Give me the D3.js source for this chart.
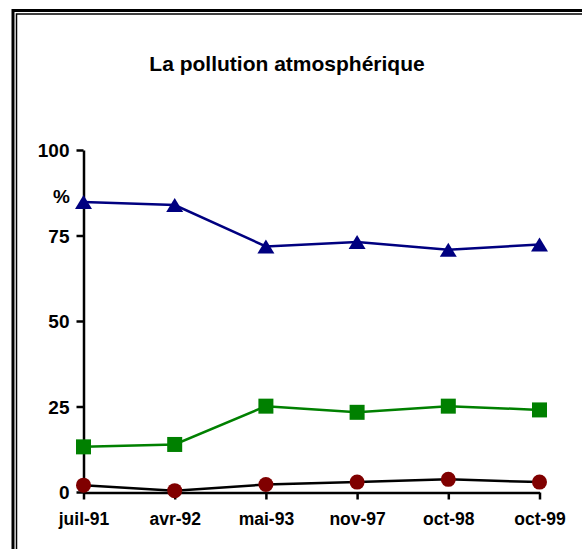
<!DOCTYPE html>
<html>
<head>
<meta charset="utf-8">
<script src="https://cdn.jsdelivr.net/npm/d3@7"></script>
<style>
  body { margin: 0; background: #fff; }
  text { font-family: "Liberation Sans", Arial, sans-serif; font-weight: bold; fill: #000; }
</style>
</head>
<body>
<div id="chart"></div>
<script>
// data
var categories = ["juil-91", "avr-92", "mai-93", "nov-97", "oct-98", "oct-99"]
var blueSeries = [84.8, 83.9, 71.8, 73.1, 70.8, 72.4]
var greenSeries = [13.2, 13.9, 25.1, 23.3, 25.1, 24.0]
var redSeries = [2.0, 0.4, 2.2, 2.9, 3.7, 2.9]
var yTicks = [0, 25, 50, 75, 100]

var width = 582, height = 549

var svg = d3.select("#chart").append("svg")
    .attr("width", width)
    .attr("height", height)

// double frame (right and bottom run off the picture)
svg.append("rect")
    .attr("x", 13).attr("y", 10.5)
    .attr("width", 600).attr("height", 600)
    .attr("fill", "none").attr("stroke", "#000").attr("stroke-width", 3)
svg.append("rect")
    .attr("x", 16.5).attr("y", 14)
    .attr("width", 600).attr("height", 600)
    .attr("fill", "none").attr("stroke", "#000").attr("stroke-width", 1.5)

svg.append("text")
    .attr("x", 287).attr("y", 71)
    .attr("text-anchor", "middle")
    .style("font-size", "21px")
    .text("La pollution atmosphérique")

var x = d3.scalePoint()
    .domain(categories)
    .range([83.5, 539.5])

var y = d3.scaleLinear()
    .domain([0, 100])
    .range([492, 150])

// y axis
var yAxis = svg.append("g")
    .attr("transform", "translate(83.5,0)")
    .call(d3.axisLeft(y).tickValues(yTicks).tickSize(7).tickSizeOuter(0).tickPadding(7))
yAxis.select(".domain").attr("stroke-width", 2.5)
yAxis.selectAll(".tick line").attr("stroke-width", 2.5)
yAxis.selectAll(".tick text")
    .style("font-size", "19px")
    .style("font-family", "'Liberation Sans', Arial, sans-serif")
    .style("font-weight", "bold")
    .attr("dy", "0.36em")

svg.append("text")
    .attr("x", 70).attr("y", 203)
    .attr("text-anchor", "end")
    .style("font-size", "19px")
    .text("%")

// x axis
var xAxis = svg.append("g")
    .attr("transform", "translate(0,492.5)")
    .call(d3.axisBottom(x).tickSize(7).tickSizeOuter(0).tickPadding(13))
xAxis.select(".domain").attr("stroke-width", 2.5)
xAxis.selectAll(".tick line").attr("stroke-width", 2.5)
xAxis.selectAll(".tick text")
    .style("font-size", "17.5px")
    .style("font-family", "'Liberation Sans', Arial, sans-serif")
    .style("font-weight", "bold")

var line = d3.line()
    .x(function (d, i) { return x(categories[i]) })
    .y(function (d) { return y(d) })

// red circles (black line)
svg.append("path").datum(redSeries)
    .attr("d", line).attr("fill", "none")
    .attr("stroke", "#000").attr("stroke-width", 2.5)
svg.selectAll(".red").data(redSeries).enter()
    .append("circle")
    .attr("cx", function (d, i) { return x(categories[i]) })
    .attr("cy", function (d) { return y(d) })
    .attr("r", 7.5)
    .attr("fill", "#800000")

// green squares
svg.append("path").datum(greenSeries)
    .attr("d", line).attr("fill", "none")
    .attr("stroke", "#008000").attr("stroke-width", 2.5)
svg.selectAll(".green").data(greenSeries).enter()
    .append("rect")
    .attr("x", function (d, i) { return x(categories[i]) - 7.5 })
    .attr("y", function (d) { return y(d) - 7.5 })
    .attr("width", 15).attr("height", 15)
    .attr("fill", "#008000")

// blue triangles
svg.append("path").datum(blueSeries)
    .attr("d", line).attr("fill", "none")
    .attr("stroke", "#000080").attr("stroke-width", 2.5)
svg.selectAll(".blue").data(blueSeries).enter()
    .append("path")
    .attr("transform", function (d, i) { return "translate(" + x(categories[i]) + "," + y(d) + ")" })
    .attr("d", "M0,-7L8.5,7L-8.5,7Z")
    .attr("fill", "#000080")
</script>
</body>
</html>
